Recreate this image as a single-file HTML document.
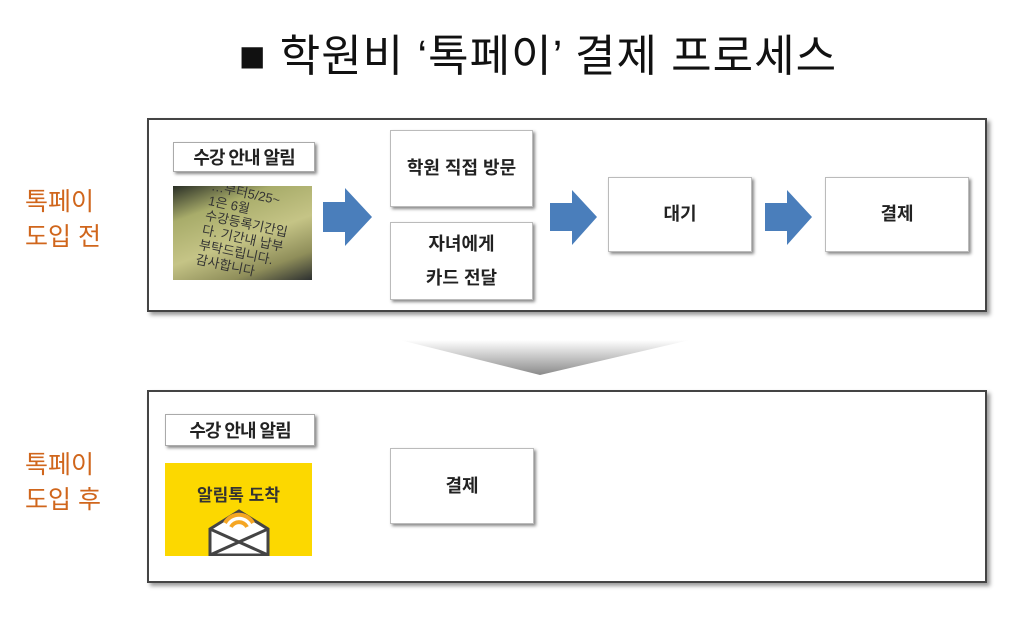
<!DOCTYPE html>
<html><head><meta charset="utf-8"><style>
body{margin:0;width:1024px;height:640px;background:#fff;position:relative;overflow:hidden;font-family:"Liberation Sans","Noto Sans CJK KR",sans-serif}
.a{position:absolute}
.panel{position:absolute;border:2px solid #444;box-shadow:3px 3px 4px #999;background:#fff}
.box{position:absolute;background:#fff;border:1px solid #bbb;box-shadow:2px 2px 3px #888;display:flex;align-items:center;justify-content:center;text-align:center;font-size:18px;font-weight:bold;color:#222;line-height:1.9}
.tag{position:absolute;background:#fff;border:1px solid #aaa;box-shadow:2px 2px 3px #888;display:flex;align-items:center;justify-content:center;font-size:18px;font-weight:bold;color:#222;letter-spacing:-1px}
.lbl{position:absolute;color:#d0661c;font-size:25px;line-height:35px}
</style></head><body>
<div class="a" style="left:0;width:1076px;top:20px;text-align:center;font-size:44px;color:#111;letter-spacing:1px">■ 학원비 ‘톡페이’ 결제 프로세스</div>

<div class="panel" style="left:147px;top:118px;width:836px;height:190px"></div>
<div class="lbl" style="left:25px;top:185px">톡페이<br>도입 전</div>
<div class="tag" style="left:173px;top:142px;width:140px;height:28px">수강 안내 알림</div>
<div class="a" style="left:173px;top:186px;width:139px;height:94px;background:linear-gradient(160deg,#2a2f26 0%,#a8ac6a 25%,#c5c486 55%,#8f8e5a 80%,#2d3030 100%);overflow:hidden">
<div style="position:absolute;left:30px;top:0;font-size:13px;line-height:15px;color:#333;transform:rotate(12deg)">…부터5/25~<br>1은 6월<br>수강등록기간입<br>다. 기간내 납부<br>부탁드립니다.<br>감사합니다</div></div>
<svg class="a" style="left:0;top:0" width="1024" height="640">
<defs><linearGradient id="g" x1="0" y1="0" x2="0" y2="1"><stop offset="0" stop-color="#fff"/><stop offset="1" stop-color="#8a8a8a"/></linearGradient></defs>
<g fill="#4a7ebb">
<polygon points="323,202 345,202 345,188 372,217 345,246 345,232 323,232"/>
<polygon points="550,203 572,203 572,190 597,217 572,245 572,231 550,231"/>
<polygon points="765,203 787,203 787,190 812,217 787,245 787,231 765,231"/>
<polygon points="323,470 345,470 345,455 372,484 345,512 345,498 323,498"/>
</g>
<polygon points="400,340 690,340 540,375" fill="url(#g)"/>
</svg>
<div class="box" style="left:390px;top:130px;width:141px;height:75px">학원 직접 방문</div>
<div class="box" style="left:390px;top:222px;width:141px;height:76px">자녀에게<br>카드 전달</div>
<div class="box" style="left:608px;top:177px;width:142px;height:73px">대기</div>
<div class="box" style="left:825px;top:177px;width:142px;height:73px">결제</div>

<div class="panel" style="left:147px;top:390px;width:836px;height:189px"></div>
<div class="lbl" style="left:25px;top:448px">톡페이<br>도입 후</div>
<div class="tag" style="left:165px;top:414px;width:148px;height:30px">수강 안내 알림</div>
<div class="a" style="left:165px;top:463px;width:147px;height:93px;background:#fcd800;overflow:hidden">
<div style="text-align:center;font-size:17px;font-weight:bold;color:#333;margin-top:18px">알림톡 도착</div>
<svg width="147" height="60" style="position:absolute;left:0;top:40px">
<path d="M45 26 L74 8 L103 26 L103 52 L45 52 Z" fill="#fff" stroke="#444" stroke-width="3"/>
<path d="M60 20 A16 16 0 0 1 88 20" fill="none" stroke="#f5a623" stroke-width="4"/>
<path d="M66 24 A9 9 0 0 1 82 24" fill="none" stroke="#f5a623" stroke-width="4"/>
<path d="M45 26 L103 52 M103 26 L45 52" stroke="#444" stroke-width="3"/>
</svg></div>
<div class="box" style="left:390px;top:448px;width:142px;height:74px">결제</div>
</body></html>
